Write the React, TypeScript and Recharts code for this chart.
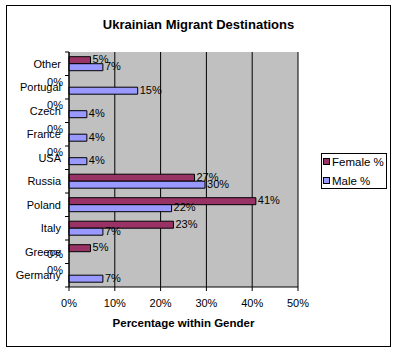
import React from "react";
import {
  BarChart,
  Bar,
  XAxis,
  YAxis,
  CartesianGrid,
  LabelList,
} from "recharts";

const countries = ["Other", "Portugal", "Czech", "France", "USA", "Russia", "Poland", "Italy", "Greece", "Germany"];
const femalePct = [4.7, 0, 0, 0, 0, 27.4, 40.8, 22.8, 4.7, 0];
const malePct = [7.4, 15, 3.9, 3.9, 3.9, 29.7, 22.4, 7.4, 0, 7.4];
const xTicks = [0, 10, 20, 30, 40, 50];
const seriesNames = ["Female %", "Male %"];

const FONT = "'Liberation Sans', Arial, sans-serif";
const FEMALE = "#993366";
const MALE = "#9999ff";

const data = countries.map((c, i) => ({
  country: c,
  female: femalePct[i],
  male: malePct[i],
}));

const BAND = 23.5;

// category label + Excel-style tick marks between bands; also the "0%" labels
// of empty bars, which Excel pushes to the left of the axis
function CountryTick(props: any) {
  const { y, payload, index } = props;
  const last = index === countries.length - 1;
  const f0 = femalePct[index] === 0;
  const m0 = malePct[index] === 0;
  const txt = (yy: number, s: string) => (
    <text x={63} y={yy} textAnchor="end" dominantBaseline="central" fontSize={11} fill="#000" fontFamily={FONT}>
      {s}
    </text>
  );
  return (
    <g>
      <line x1={65} x2={69} y1={y - BAND / 2} y2={y - BAND / 2} stroke="#000" />
      {last && <line x1={65} x2={69} y1={y + BAND / 2} y2={y + BAND / 2} stroke="#000" />}
      <text x={61} y={y} textAnchor="end" dominantBaseline="central" fontSize={11} fill="#000" fontFamily={FONT}>
        {payload.value}
      </text>
      {f0 && txt(y - 5.5, "0%")}
      {m0 && txt(y + 2, "0%")}
    </g>
  );
}

function ValueLabel(props: any) {
  const { x, y, width, height, value } = props;
  if (!value) return null;
  const cy = Number(y) + Number(height) / 2 - 1;
  return (
    <text x={Number(x) + Number(width) + 2} y={cy} textAnchor="start" dominantBaseline="central" fontSize={11} fill="#000" fontFamily={FONT}>
      {`${Math.round(Number(value))}%`}
    </text>
  );
}

function LegendBox() {
  const colors = [FEMALE, MALE];
  return (
    <div
      style={{
        position: "absolute",
        left: 321,
        top: 153,
        width: 64,
        height: 34,
        border: "1px solid #000",
        background: "#fff",
        fontFamily: FONT,
        fontSize: 11.5,
      }}
    >
      {seriesNames.map((n, i) => (
        <div
          key={n}
          style={{ position: "absolute", left: 1, top: i === 0 ? 1 : 20, height: 13, display: "flex", alignItems: "center" }}
        >
          <span
            style={{
              display: "inline-block",
              width: 5,
              height: 5,
              background: colors[i],
              border: "1px solid #000",
              marginRight: 2,
            }}
          />
          <span>{n}</span>
        </div>
      ))}
    </div>
  );
}

export default function App() {
  return (
    <div style={{ position: "absolute", left: 0, top: 0, width: 397, height: 352, background: "#fff" }}>
      <div
        style={{
          position: "absolute",
          left: 6,
          top: 5,
          width: 383,
          height: 340,
          border: "1px solid #000",
        }}
      />
      <div
        style={{
          position: "absolute",
          left: 0,
          width: 397,
          top: 17,
          textAlign: "center",
          fontFamily: FONT,
          fontWeight: "bold",
          fontSize: 13,
        }}
      >
        Ukrainian Migrant Destinations
      </div>
      <div
        style={{
          position: "absolute",
          left: 69,
          width: 229,
          top: 317,
          textAlign: "center",
          fontFamily: FONT,
          fontWeight: "bold",
          fontSize: 11.5,
        }}
      >
        Percentage within Gender
      </div>
      <div style={{ position: "absolute", left: 0, top: 0 }}>
        <BarChart
          width={397}
          height={352}
          data={data}
          layout="vertical"
          margin={{ top: 52, right: 99, bottom: 35, left: 0 }}
          barCategoryGap="20%"
          barGap={0}
        >
          <CartesianGrid horizontal={false} vertical stroke="#000" fill="#c0c0c0" fillOpacity={1} />
          <XAxis
            type="number"
            domain={[0, 50]}
            ticks={xTicks}
            tickFormatter={(v: number) => `${v}%`}
            axisLine={{ stroke: "#000" }}
            tickLine={{ stroke: "#000" }}
            tickSize={4}
            tickMargin={8}
            height={30}
            tick={{ fontSize: 11, fill: "#000", fontFamily: FONT }}
          />
          <YAxis
            type="category"
            dataKey="country"
            width={69}
            axisLine={{ stroke: "#000" }}
            tickLine={false}
            tick={<CountryTick />}
            interval={0}
          />
          <Bar dataKey="female" name={seriesNames[0]} fill={FEMALE} stroke="#000" strokeWidth={1} isAnimationActive={false}>
            <LabelList dataKey="female" content={<ValueLabel />} />
          </Bar>
          <Bar dataKey="male" name={seriesNames[1]} fill={MALE} stroke="#000" strokeWidth={1} isAnimationActive={false}>
            <LabelList dataKey="male" content={<ValueLabel />} />
          </Bar>
        </BarChart>
      </div>
      <LegendBox />
    </div>
  );
}
